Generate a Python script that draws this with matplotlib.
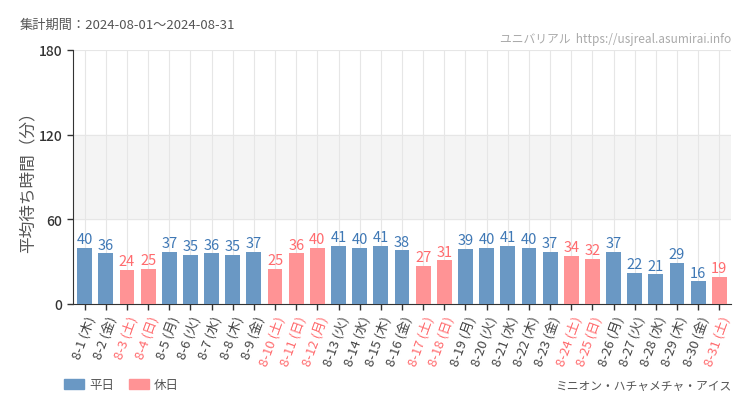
import matplotlib
matplotlib.use("Agg")
import matplotlib.pyplot as plt
from matplotlib.patches import Patch

plt.rcParams['font.family'] = ['Noto Sans CJK JP', 'DejaVu Sans']

days = [f"8-{d}" for d in range(1, 32)]
weekdays = ["木","金","土","日","月","火","水","木","金","土","日","月","火","水","木","金",
            "土","日","月","火","水","木","金","土","日","月","火","水","木","金","土"]
values = [40,36,24,25,37,35,36,35,37,25,36,40,41,40,41,38,27,31,39,40,41,40,37,34,32,37,22,21,29,16,19]
holiday = [False,False,True,True,False,False,False,False,False,True,True,True,False,False,False,False,
           True,True,False,False,False,False,False,True,True,False,False,False,False,False,True]

title = "集計期間：2024-08-01～2024-08-31"
watermark = "ユニバリアル  https://usjreal.asumirai.info"
ylabel = "平均待ち時間（分）"
attraction = "ミニオン・ハチャメチャ・アイス"
legend_labels = ["平日", "休日"]
yticks = [0, 60, 120, 180]

BLUE = "#6a98c4"
PINK = "#ff9395"
BLUE_T = "#3f78b5"
PINK_T = "#ff6b6e"

fig = plt.figure(figsize=(7.5, 4.1), dpi=100)
ax = fig.add_axes([73/750, 1-305/410, (731-73)/750, (305-51)/410])

x = list(range(len(days)))
colors = [PINK if h else BLUE for h in holiday]
bars = ax.bar(x, values, width=0.7, color=colors, zorder=3)
for xi, v, h in zip(x, values, holiday):
    ax.text(xi, v + 1.2, str(v), ha='center', va='bottom', fontsize=10.5,
            color=PINK_T if h else BLUE_T, zorder=4)

ax.set_xlim(-0.55, len(days) - 0.45)
ax.set_ylim(0, 180)
ax.axhspan(60, 120, color="#f4f4f4", zorder=0)
for yv in yticks[1:]:
    ax.axhline(yv, color="#e6e6e6", lw=0.8, zorder=1)
for xi in x:
    ax.axvline(xi, color="#e6e6e6", lw=0.8, zorder=1)

ax.set_yticks(yticks)
ax.set_yticklabels([str(t) for t in yticks], fontsize=10, color="#333333", fontweight='medium')
ax.set_xticks(x)
ax.set_xticklabels([f"{d} ({w})" for d, w in zip(days, weekdays)], rotation=70,
                   ha='right', va='top', rotation_mode='anchor', fontsize=9.5)
for lab, h in zip(ax.get_xticklabels(), holiday):
    lab.set_color(PINK_T if h else "#444444")
ax.tick_params(axis='both', length=4, color="#333333", width=1)
ax.tick_params(axis='x', pad=3)

for s in ['top', 'right']:
    ax.spines[s].set_visible(False)
ax.spines['left'].set_color("#333333")
ax.spines['bottom'].set_color("#333333")

ax.set_ylabel(ylabel, fontsize=12, color="#555555", labelpad=2)

fig.text(20/750, 1-25/410, title, fontsize=9.5, color="#555555", ha='left', va='center')
fig.text(731/750, 1-40/410, watermark, fontsize=8.5, color="#aaaaaa", ha='right', va='center')
fig.text(731/750, 1-386/410, attraction, fontsize=8.5, color="#555555", ha='right', va='center')

handles = [Patch(color=BLUE), Patch(color=PINK)]
fig.legend(handles, legend_labels, loc='center left', bbox_to_anchor=(64/750, 1-386/410),
           ncol=2, frameon=False, fontsize=9, handlelength=1.6, handleheight=0.9,
           columnspacing=1.2, handletextpad=0.4, labelcolor="#555555", borderaxespad=0, borderpad=0)

fig.savefig("out.png", dpi=100, facecolor="white")
